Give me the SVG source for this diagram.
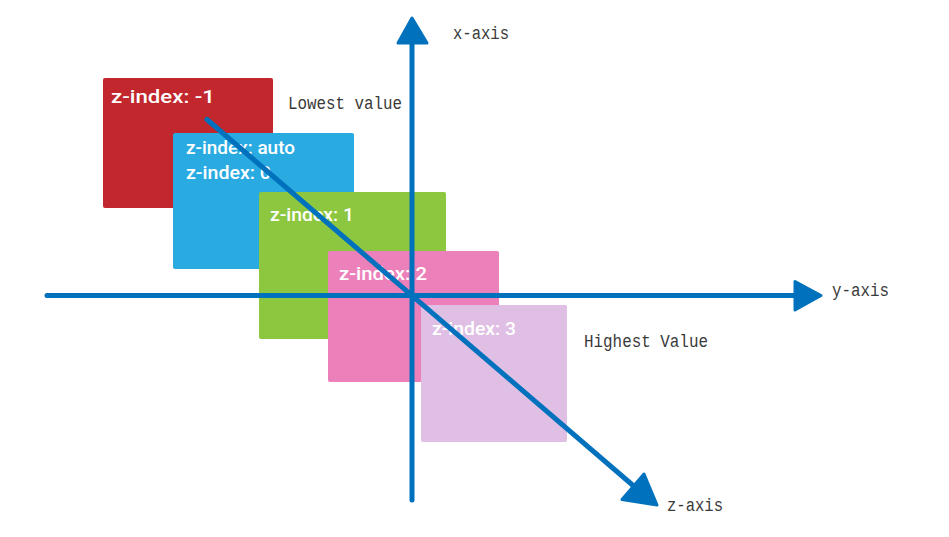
<svg xmlns="http://www.w3.org/2000/svg" width="949" height="537" viewBox="0 0 949 537">
<style>
.box{stroke:none}
.lbl{font-family:"Roboto","Liberation Sans",sans-serif;font-size:19px;font-weight:500;fill:#ffffff}
.ax{font-family:"Liberation Mono","DejaVu Sans Mono",monospace;font-size:18px;fill:#3a3a3a}
.axis{stroke:#0071bc;stroke-width:5;stroke-linecap:round;fill:none}
.head{fill:#0071bc;stroke:#0071bc;stroke-width:3;stroke-linejoin:round}
</style>
<rect width="949" height="537" fill="#ffffff"/>
<g id="node-red">
<rect class="box" x="103" y="78" width="170" height="130" rx="2" fill="#c1272d"/>
<text class="lbl" x="111" y="103" textLength="104" lengthAdjust="spacingAndGlyphs">z-index: -1</text>
</g>
<g id="node-blue">
<rect class="box" x="173" y="133" width="181" height="136" rx="2" fill="#29abe2"/>
<text class="lbl" x="186" y="154" textLength="109" lengthAdjust="spacingAndGlyphs">z-index: auto</text>
<text class="lbl" x="186" y="179" textLength="85" lengthAdjust="spacingAndGlyphs">z-index: 0</text>
</g>
<g id="node-green">
<rect class="box" x="259" y="192" width="187" height="147" rx="2" fill="#8dc63f"/>
<text class="lbl" x="270" y="221" textLength="84" lengthAdjust="spacingAndGlyphs">z-index: 1</text>
</g>
<g id="node-pink">
<rect class="box" x="328" y="251" width="171" height="131" rx="2" fill="#ec80ba"/>
<text class="lbl" x="339" y="280" textLength="88" lengthAdjust="spacingAndGlyphs">z-index: 2</text>
</g>
<g id="node-lavender">
<rect class="box" x="421" y="305" width="146" height="137" rx="2" fill="#e0bfe5"/>
<text class="lbl" x="432" y="335" textLength="84" lengthAdjust="spacingAndGlyphs">z-index: 3</text>
</g>
<g id="connectors">
<line class="axis" x1="412" y1="500" x2="412" y2="40"/>
<polygon class="head" points="412,18 398,43 427,43"/>
<line class="axis" x1="47" y1="295.5" x2="798" y2="295.5"/>
<polygon class="head" points="821,295.5 795,281.5 795,310"/>
<line class="axis" x1="207" y1="119.5" x2="636" y2="488"/>
<polygon class="head" points="657,505 622,499.5 644,474"/>
</g>
<g id="labels">
<text class="ax" x="453" y="39" textLength="56" lengthAdjust="spacingAndGlyphs">x-axis</text>
<text class="ax" x="832" y="296" textLength="57" lengthAdjust="spacingAndGlyphs">y-axis</text>
<text class="ax" x="667" y="511" textLength="56" lengthAdjust="spacingAndGlyphs">z-axis</text>
<text class="ax" x="288" y="109" textLength="114" lengthAdjust="spacingAndGlyphs">Lowest value</text>
<text class="ax" x="584" y="347" textLength="124" lengthAdjust="spacingAndGlyphs">Highest Value</text>
</g>
</svg>
